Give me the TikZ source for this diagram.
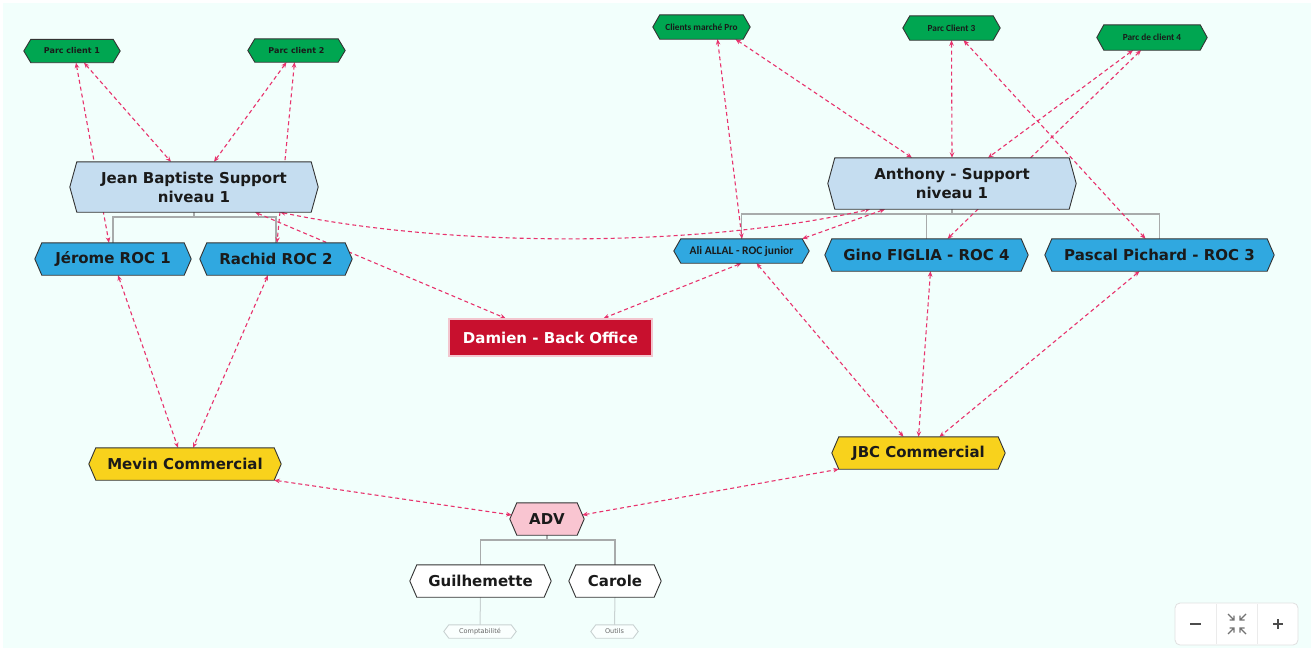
\documentclass[tikz,border=0pt]{standalone}
\usepackage{fontspec}
\setmainfont{DejaVu Sans}
\newfontfamily\carl{Carlito}
\usetikzlibrary{arrows.meta}
\pgfdeclarelayer{edges}
\pgfdeclarelayer{fills}
\pgfsetlayers{edges,fills,main}
\definecolor{bgc}{HTML}{F2FFFC}
\definecolor{cgreen}{HTML}{00A651}
\definecolor{clblue}{HTML}{C5DDF0}
\definecolor{cblue}{HTML}{30A8E0}
\definecolor{cred}{HTML}{C8102E}
\definecolor{credline}{HTML}{F3C5CE}
\definecolor{cyellow}{HTML}{F8D21C}
\definecolor{cpink}{HTML}{F9C5D1}
\definecolor{cedge}{HTML}{E8336D}
\definecolor{ctree}{HTML}{A8ABAB}
\definecolor{cfaint}{HTML}{C9D2D2}
\definecolor{hexline}{HTML}{333333}
\definecolor{ctext}{HTML}{1A1A1A}
\tikzset{
  hx/.style={inner sep=0pt, align=center, text=ctext},
  big/.style={font=\fontsize{15}{19}\selectfont\bfseries},
  small/.style={font=\fontsize{8}{10}\selectfont\bfseries},
  narrow/.style={font=\carl\fontsize{9.3}{10}\selectfont\bfseries},
  tiny/.style={font=\fontsize{6.5}{8}\selectfont, text=black!60},
  link/.style={draw=cedge, line width=1.1pt, dash pattern=on 4pt off 3pt,
    {Stealth[length=5.5pt,width=4.5pt]}-{Stealth[length=5.5pt,width=4.5pt]}},
  tree/.style={draw=ctree, line width=1.5pt},
  faint/.style={draw=cfaint, line width=1pt},
  ctl/.style={draw=black!70, line width=2pt},
}
\begin{document}
\begin{tikzpicture}[x=1pt,y=-1pt]
\useasboundingbox (0,0) rectangle (1311,648);
% nodes
\node[hx,small,minimum width=82,minimum height=23] (pc1) at (72,51) {Parc client 1};
\node[hx,small,minimum width=83,minimum height=23] (pc2) at (296.5,50.5) {Parc client 2};
\node[hx,narrow,minimum width=83,minimum height=24] (cmp) at (701.5,27) {Clients marché Pro};
\node[hx,narrow,minimum width=83,minimum height=24] (pc3) at (951.5,28) {Parc Client 3};
\node[hx,narrow,minimum width=96,minimum height=25] (pc4) at (1152,37.5) {Parc de client 4};
\node[hx,big,minimum width=234,minimum height=50] (jb) at (194,187) {Jean Baptiste Support\\niveau 1};
\node[hx,big,minimum width=234,minimum height=51] (ant) at (952,183.5) {Anthony - Support\\niveau 1};
\node[hx,big,minimum width=142,minimum height=32] (jer) at (113,259) {Jérome ROC 1};
\node[hx,big,minimum width=138,minimum height=32] (rac) at (276,259) {Rachid ROC 2};
\node[hx,font=\carl\fontsize{11.5}{13}\selectfont\bfseries,minimum width=121,minimum height=24] (ali) at (741.5,251) {Ali ALLAL - ROC junior};
\node[hx,big,minimum width=189,minimum height=32] (gino) at (926.5,255) {Gino FIGLIA - ROC 4};
\node[hx,big,minimum width=215,minimum height=32] (pas) at (1159.5,255) {Pascal Pichard - ROC 3};
\node[hx,big,text=white,fill=cred,draw=credline,line width=1.5pt,minimum width=203,minimum height=37] (dam) at (550.5,337.5) {Damien - Back Office};
\node[hx,big,minimum width=178,minimum height=32] (mev) at (185,464) {Mevin Commercial};
\node[hx,big,minimum width=159,minimum height=32] (jbc) at (918.5,453) {JBC Commercial};
\node[hx,big,minimum width=60,minimum height=32] (adv) at (547,519) {ADV};
\node[hx,big,minimum width=127,minimum height=32] (gui) at (480.5,581) {Guilhemette};
\node[hx,big,minimum width=78,minimum height=32] (car) at (615,581) {Carole};
\node[hx,tiny,minimum width=62,minimum height=13] (comp) at (480,631.5) {Comptabilité};
\node[hx,tiny,minimum width=37,minimum height=13] (out) at (614.5,631.5) {Outils};
% hexagon bodies
\begin{pgfonlayer}{fills}
\foreach \n/\c in {pc1/cgreen,pc2/cgreen,cmp/cgreen,pc3/cgreen,pc4/cgreen,
  jb/clblue,ant/clblue,jer/cblue,rac/cblue,ali/cblue,gino/cblue,pas/cblue,
  mev/cyellow,jbc/cyellow,adv/cpink,gui/white,car/white}
  \filldraw[fill=\c,draw=hexline,line width=0.9pt,line join=miter]
    (\n.north west) -- (\n.north east) -- ([xshift=7pt]\n.east) -- (\n.south east)
    -- (\n.south west) -- ([xshift=-7pt]\n.west) -- cycle;
\foreach \n in {comp,out}
  \filldraw[fill=white!60!bgc,draw=cfaint,line width=0.9pt]
    (\n.north west) -- (\n.north east) -- ([xshift=5pt]\n.east) -- (\n.south east)
    -- (\n.south west) -- ([xshift=-5pt]\n.west) -- cycle;
\end{pgfonlayer}
% background, tree lines and links
\begin{pgfonlayer}{edges}
\fill[white] (0,0) rectangle (1311,648);
\fill[bgc] (3,3) rectangle (1311,648);
\draw[tree] (jb.south) -- ++(0,5) -| (jer.north);
\draw[tree] (jb.south) -- ++(0,5) -| (rac.north);
\draw[tree] (ant.south) -- ++(0,5) -| (ali.north);
\draw[tree] (ant.south) -- ++(0,5) -| (gino.north);
\draw[tree] (ant.south) -- ++(0,5) -| (pas.north);
\draw[tree] (adv.south) -- ++(0,5) -| (gui.north);
\draw[tree] (adv.south) -- ++(0,5) -| (car.north);
\draw[faint] (gui.south) -- (comp.north);
\draw[faint] (car.south) -- (out.north);
\draw[link] ([xshift=4pt]pc1.south) -- ([xshift=-4pt]jer.north);
\draw[link] ([xshift=12pt]pc1.south) -- ([xshift=-23pt]jb.north);
\draw[link] ([xshift=-10pt]pc2.south) -- ([xshift=20pt]jb.north);
\draw[link] ([xshift=-2pt]pc2.south) -- ([xshift=1pt]rac.north);
\draw[link] ([xshift=61pt]jb.south) -- ([xshift=-45pt]dam.north);
\draw[link] ([xshift=86pt]jb.south) .. controls (450,248) and (700,248) .. ([xshift=-82pt]ant.south);
\draw[link] ([xshift=16pt]cmp.south) -- ([xshift=0.5pt]ali.north);
\draw[link] ([xshift=34pt]cmp.south) -- ([xshift=-40pt]ant.north);
\draw[link] (pc3.south) -- (ant.north);
\draw[link] ([xshift=12pt]pc3.south) -- ([xshift=-14pt]pas.north);
\draw[link] ([xshift=-19pt]pc4.south) -- ([xshift=36pt]ant.north);
\draw[link] ([xshift=-11pt]pc4.south) -- ([xshift=21pt]gino.north);
\draw[link] (ali.north east) -- ([xshift=-67pt]ant.south);
\draw[link] (ali.south) -- ([xshift=53pt]dam.north);
\draw[link] ([xshift=15pt]ali.south) -- ([xshift=-15pt]jbc.north);
\draw[link] ([xshift=4pt]gino.south) -- (jbc.north);
\draw[link] ([xshift=-20pt]pas.south) -- ([xshift=21pt]jbc.north);
\draw[link] ([xshift=5pt]jer.south) -- ([xshift=-7pt]mev.north);
\draw[link] ([xshift=-8pt]rac.south) -- ([xshift=8pt]mev.north);
\draw[link] (mev.south east) -- ([xshift=-5pt,yshift=4pt]adv.west);
\draw[link] ([xshift=5pt,yshift=4pt]adv.east) -- (jbc.south west);
\end{pgfonlayer}
% zoom control
\filldraw[fill=white,draw=black!12,line width=0.8pt,rounded corners=5pt] (1175,603) rectangle (1298,645);
\draw[black!8,line width=0.8pt] (1216,604) -- (1216,644) (1257,604) -- (1257,644);
\draw[ctl] (1190,624) -- (1201,624);
\draw[ctl] (1273,624) -- (1283,624) (1278,619) -- (1278,629);
\begin{scope}[draw=black!55,line width=1.2pt]
\draw (1228,614) -- (1234,620) (1234,615.5) -- (1234,620) -- (1229.5,620);
\draw (1246,614) -- (1240,620) (1240,615.5) -- (1240,620) -- (1244.5,620);
\draw (1228,634) -- (1234,628) (1234,632.5) -- (1234,628) -- (1229.5,628);
\draw (1246,634) -- (1240,628) (1240,632.5) -- (1240,628) -- (1244.5,628);
\end{scope}
\end{tikzpicture}
\end{document}
